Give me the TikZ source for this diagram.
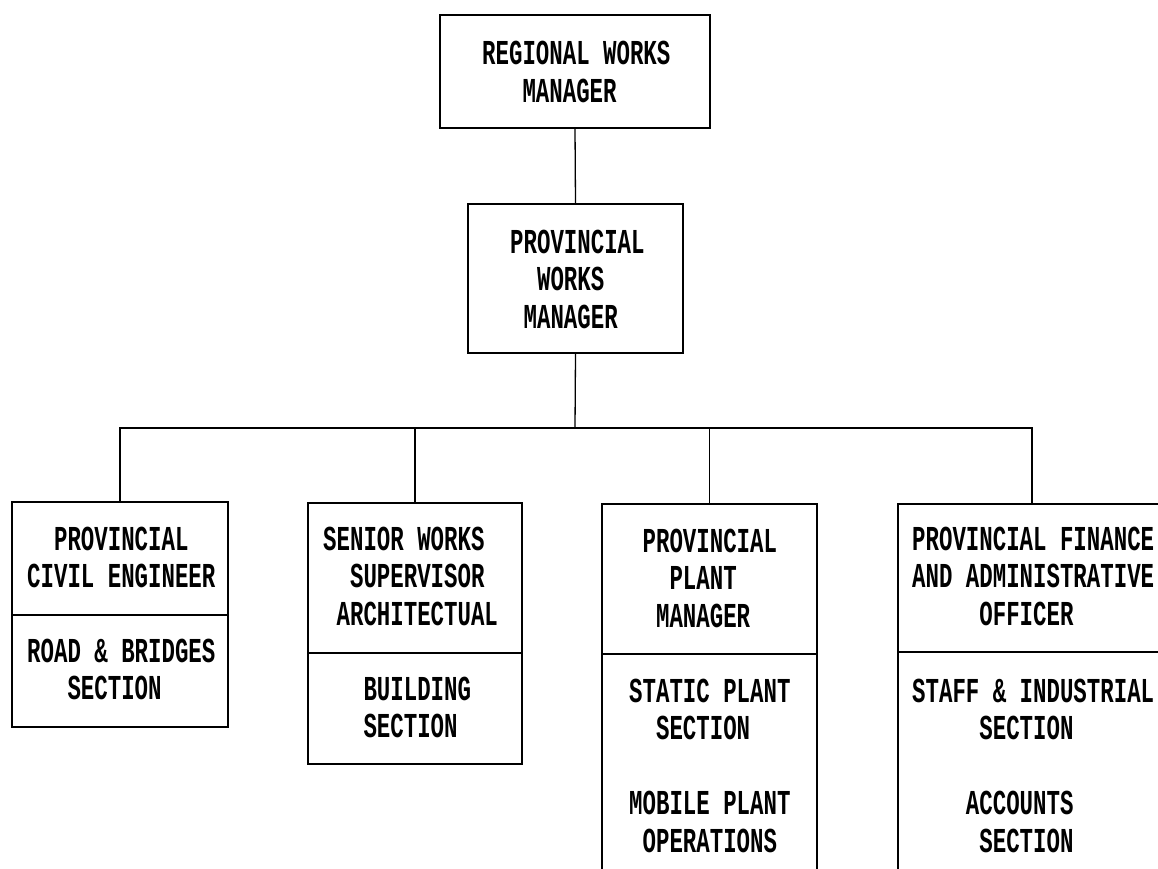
\documentclass[tikz,border=0pt]{standalone}
\usepackage{fontspec}
\newfontfamily\orgfont[FakeStretch=0.64]{Liberation Mono}
\begin{document}
\begin{tikzpicture}[x=1pt,y=-1pt,
  box/.style={draw, line width=1.3pt, rectangle, inner sep=0pt},
  rule/.style={line width=1.3pt},
  link/.style={line width=1.3pt},
  txt/.style={anchor=base west, inner sep=0pt, align=left,
    font=\orgfont\bfseries\fontsize{35}{37.5}\selectfont}]
\useasboundingbox (0,0) rectangle (1158,869);
\clip (0,0) rectangle (1158,869);
% boxes
\node[box, minimum width=270pt, minimum height=113pt] (top) at (575,71.5) {};
\node[box, minimum width=215pt, minimum height=149pt] (pwm) at (575.5,278.5) {};
\node[box, minimum width=216pt, minimum height=225pt] (b1) at (120,614.5) {};
\node[box, minimum width=214pt, minimum height=261pt] (b2) at (415,633.5) {};
\node[box, minimum width=215pt, minimum height=420pt] (b3) at (709.5,714) {};
\node[box, minimum width=268pt, minimum height=420pt] (b4) at (1032,714) {};
% dividers
\draw[rule] (b1.west |- 0,615) -- (b1.east |- 0,615);
\draw[rule] (b2.west |- 0,653) -- (b2.east |- 0,653);
\draw[rule] (b3.west |- 0,654) -- (b3.east |- 0,654);
\draw[rule] (b4.west |- 0,652) -- (b4.east |- 0,652);
% connectors
\coordinate (bar) at (575,428);
\draw[link] (top.south) -- (pwm.north);
\draw[link] (pwm.south) -- (bar);
\draw[link] (b1.north) |- (bar) -| (b4.north);
\draw[link] (b2.north) -- (b2.north |- bar);
\draw[link] (b3.north) -- (b3.north |- bar);
% texts (anchor = baseline of the last line)
\node[txt] (ttop) at (482,102.5) {REGIONAL WORKS\\\phantom{XXX}MANAGER};
\node[txt] (tpwm) at (510,328) {PROVINCIAL\\\phantom{XX}WORKS\\\phantom{X}MANAGER};
\node[txt] (t1a) at (27,587.5) {\phantom{XX}PROVINCIAL\\CIVIL ENGINEER};
\node[txt] (t1b) at (27,699.5) {ROAD \& BRIDGES\\\phantom{XXX}SECTION};
\node[txt] (t2a) at (323,625) {SENIOR WORKS\\\phantom{XX}SUPERVISOR\\\phantom{X}ARCHITECTUAL};
\node[txt] (t2b) at (323,737.5) {\phantom{XXX}BUILDING\\\phantom{XXX}SECTION};
\node[txt] (t3a) at (629,627) {\phantom{X}PROVINCIAL\\\phantom{XXX}PLANT\\\phantom{XX}MANAGER};
\node[txt] (t3b) at (629,852) {STATIC PLANT\\\phantom{XX}SECTION\\[37.5pt]MOBILE PLANT\\\phantom{X}OPERATIONS};
\node[txt] (t4a) at (912,625) {PROVINCIAL FINANCE\\AND ADMINISTRATIVE\\\phantom{XXXXX}OFFICER};
\node[txt] (t4b) at (912,852) {STAFF \& INDUSTRIAL\\\phantom{XXXXX}SECTION\\[37.5pt]\phantom{XXXX}ACCOUNTS\\\phantom{XXXXX}SECTION};
\end{tikzpicture}
\end{document}
